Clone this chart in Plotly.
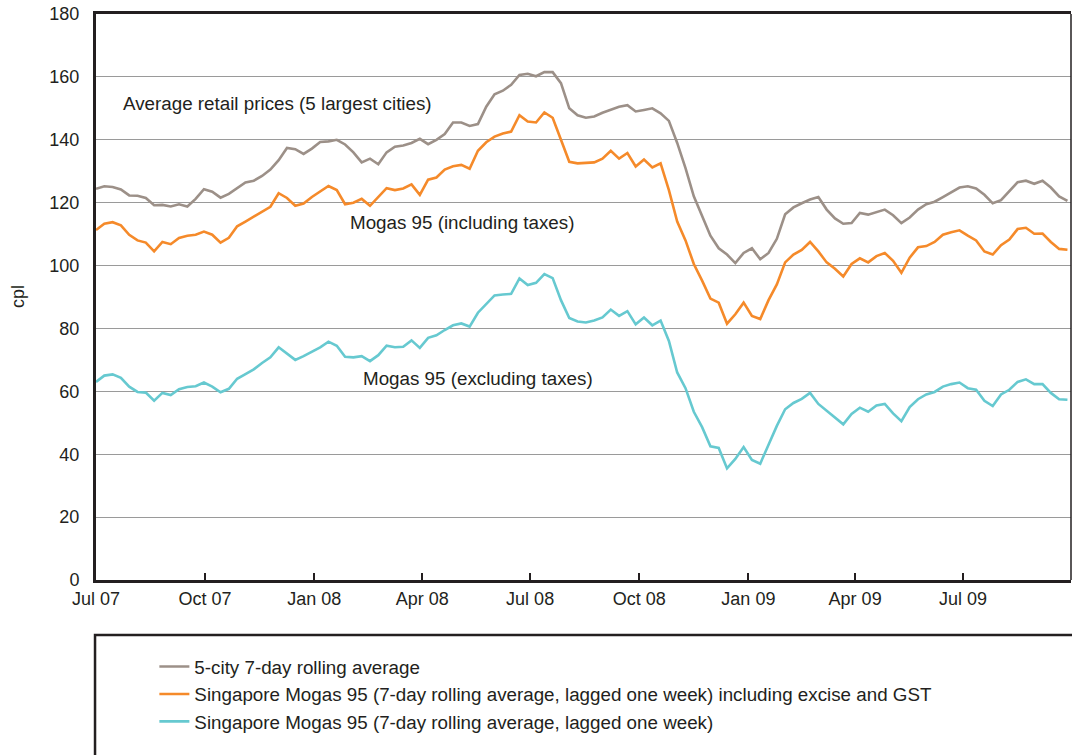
import pandas as pd
import plotly.graph_objects as go

# Weekly observation dates (7-day rolling averages, sampled weekly)
dates = pd.date_range("2007-07-01", periods=118, freq="7D")

retail_5city = [
    124.4, 125.2, 125.0, 124.2, 122.3, 122.2, 121.5, 119.2, 119.3, 118.8,
    119.5, 118.8, 121.2, 124.3, 123.5, 121.6, 122.8, 124.5, 126.4, 127.0,
    128.5, 130.5, 133.5, 137.4, 137.0, 135.5, 137.2, 139.3, 139.5, 140.0,
    138.5, 136.0, 132.8, 134.0, 132.2, 136.0, 137.8, 138.2, 139.0, 140.3,
    138.6, 140.0, 141.8, 145.5, 145.5, 144.4, 145.0, 150.5, 154.5, 155.6,
    157.5, 160.6, 161.0, 160.2, 161.5, 161.5, 158.0, 150.0, 147.8, 147.0,
    147.4, 148.6, 149.5, 150.5, 151.0, 149.0, 149.5, 150.0, 148.4, 146.0,
    139.0, 131.0, 122.0, 116.0, 109.5, 105.5, 103.5, 100.8, 104.0, 105.5,
    102.0, 104.0, 108.5, 116.3, 118.5, 119.8, 121.0, 121.8, 117.8, 115.0,
    113.3, 113.5, 116.7, 116.2, 117.0, 117.8, 116.0, 113.5, 115.3, 117.8,
    119.5, 120.3, 121.8, 123.3, 124.8, 125.2, 124.5, 122.5, 119.8, 120.8,
    123.5, 126.5, 127.0, 126.0, 127.0, 124.8, 122.0, 120.6,
]

mogas_incl_tax = [
    111.3, 113.3, 113.8, 112.8, 109.8, 108.0, 107.3, 104.5, 107.5, 106.8,
    108.8, 109.5, 109.8, 110.8, 109.8, 107.3, 108.8, 112.5, 114.0, 115.5,
    117.0, 118.7, 123.0, 121.5, 119.0, 119.7, 121.8, 123.5, 125.3, 124.0,
    119.5, 120.0, 121.2, 119.0, 121.8, 124.6, 124.0, 124.5, 125.8, 122.5,
    127.3, 128.0, 130.5, 131.6, 132.0, 130.8, 136.5, 139.2, 141.0, 142.0,
    142.6, 147.8, 145.8, 145.5, 148.7, 147.0, 140.0, 133.0, 132.5, 132.6,
    132.8, 134.0, 136.5, 134.0, 135.8, 131.5, 133.7, 131.2, 132.5, 124.0,
    114.0, 108.0, 100.5, 95.2, 89.5, 88.2, 81.5, 84.5, 88.2, 84.0,
    83.0, 89.0, 94.0, 101.0, 103.5, 105.0, 107.5, 104.5, 101.0, 99.0,
    96.5, 100.5, 102.3, 101.0, 103.0, 104.0, 101.5, 97.7, 102.5, 105.8,
    106.2, 107.5, 109.8, 110.6, 111.2, 109.5, 108.0, 104.5, 103.5, 106.5,
    108.3, 111.6, 112.0, 110.1, 110.2, 107.5, 105.3, 105.0,
]

mogas_excl_tax = [
    63.0, 65.0, 65.4, 64.3, 61.5, 59.8, 59.6, 57.0, 59.5, 58.8,
    60.7, 61.4, 61.6, 62.8, 61.5, 59.7, 60.8, 64.0, 65.5, 67.0,
    69.0, 70.8, 74.0, 72.0, 70.0, 71.2, 72.7, 74.0, 75.8, 74.5,
    71.0, 70.8, 71.2, 69.6, 71.5, 74.5, 74.0, 74.2, 76.2, 73.8,
    77.0, 77.8, 79.5, 81.0, 81.6, 80.6, 85.0, 87.9, 90.5, 90.8,
    91.0, 95.9, 93.8, 94.5, 97.3, 96.0, 89.0, 83.3, 82.2, 81.9,
    82.5, 83.5, 86.0, 84.0, 85.5, 81.3, 83.5, 81.0, 82.5, 76.0,
    66.0, 61.0, 53.5, 48.6, 42.5, 42.0, 35.5, 38.5, 42.3, 38.2,
    37.0, 43.0, 49.0, 54.3, 56.3, 57.6, 59.5, 56.0, 53.8, 51.5,
    49.5, 52.8, 54.8, 53.5, 55.5, 56.0, 53.0, 50.5, 55.0, 57.5,
    59.0, 59.8, 61.5, 62.3, 62.8, 61.0, 60.5, 57.0, 55.3, 59.0,
    60.5, 63.0, 63.8, 62.3, 62.3, 59.5, 57.5, 57.3,
]

series_names = [
    "5-city 7-day rolling average",
    "Singapore Mogas 95 (7-day rolling average, lagged one week) including excise and GST",
    "Singapore Mogas 95 (7-day rolling average, lagged one week)",
]
series_colors = ["#9c9088", "#f58a2a", "#66c9d0"]

tick_dates = ["2007-07-01", "2007-10-01", "2008-01-01", "2008-04-01", "2008-07-01",
              "2008-10-01", "2009-01-01", "2009-04-01", "2009-07-01"]
tick_labels = ["Jul 07", "Oct 07", "Jan 08", "Apr 08", "Jul 08",
               "Oct 08", "Jan 09", "Apr 09", "Jul 09"]

y_ticks = [0, 20, 40, 60, 80, 100, 120, 140, 160, 180]

FONT = "Liberation Sans, Arial, sans-serif"
INK = "#231f20"
FS = 18
FS_TXT = 18.8

fig = go.Figure()
for name, vals, col in zip(series_names,
                           [retail_5city, mogas_incl_tax, mogas_excl_tax],
                           series_colors):
    fig.add_trace(go.Scatter(x=dates, y=vals, mode="lines", name=name,
                             line=dict(color=col, width=2.6)))

fig.update_layout(
    width=1072, height=755,
    margin=dict(l=96, r=1, t=14, b=175, autoexpand=False),
    paper_bgcolor="white", plot_bgcolor="white",
    font=dict(family=FONT, size=FS, color=INK),
    showlegend=True,
    legend=dict(x=0.144, y=0.142, xref="container", yref="container",
                xanchor="left", yanchor="top",
                bgcolor="rgba(0,0,0,0)", borderwidth=0,
                font=dict(size=FS_TXT, color=INK), tracegroupgap=0,
                itemwidth=30),
    xaxis=dict(
        range=["2007-07-01", "2009-09-30"], automargin=False,
        tickmode="array", tickvals=tick_dates, ticktext=tick_labels,
        ticks="inside", ticklen=7, tickwidth=1.5, tickcolor=INK,
        showline=True, linecolor=INK, linewidth=3, mirror=True,
        showgrid=False, zeroline=False,
        tickfont=dict(size=FS, color=INK),
    ),
    yaxis=dict(
        range=[0, 180], tickmode="array", tickvals=y_ticks, automargin=False,
        showline=True, linecolor=INK, linewidth=3,
        showgrid=True, gridcolor="#9a9a9a", gridwidth=1.3,
        zeroline=False, ticks="", ticklabelstandoff=10,
        tickfont=dict(size=FS, color=INK),
    ),
    annotations=[
        dict(text="cpl", xref="paper", yref="paper", x=-(96 - 18) / 975, y=0.5,
             xanchor="center", yanchor="middle", textangle=-90, showarrow=False,
             font=dict(size=FS, color=INK)),
        dict(text="Average retail prices (5 largest cities)", xref="paper", yref="y",
             x=0.026, y=151.4, xanchor="left", yanchor="middle", showarrow=False,
             font=dict(size=FS_TXT, color=INK)),
        dict(text="Mogas 95 (including taxes)", xref="paper", yref="y",
             x=0.258, y=113.6, xanchor="left", yanchor="middle", showarrow=False,
             font=dict(size=FS_TXT, color=INK)),
        dict(text="Mogas 95 (excluding taxes)", xref="paper", yref="y",
             x=0.272, y=64.1, xanchor="left", yanchor="middle", showarrow=False,
             font=dict(size=FS_TXT, color=INK)),
    ],
    shapes=[
        dict(type="line", xref="paper", yref="paper", x0=1, x1=1, y0=0, y1=1,
             line=dict(color=INK, width=1.5)),
        dict(type="rect", xref="paper", yref="paper", x0=-0.001, x1=1.01,
             y0=-0.097, y1=-0.5, line=dict(color=INK, width=2.5),
             fillcolor="rgba(0,0,0,0)", layer="below"),
    ],
)

fig.write_html(
    "out.html",
    config={"displayModeBar": False},
    post_script="document.body.style.margin='0';document.body.style.overflow='hidden';",
)
